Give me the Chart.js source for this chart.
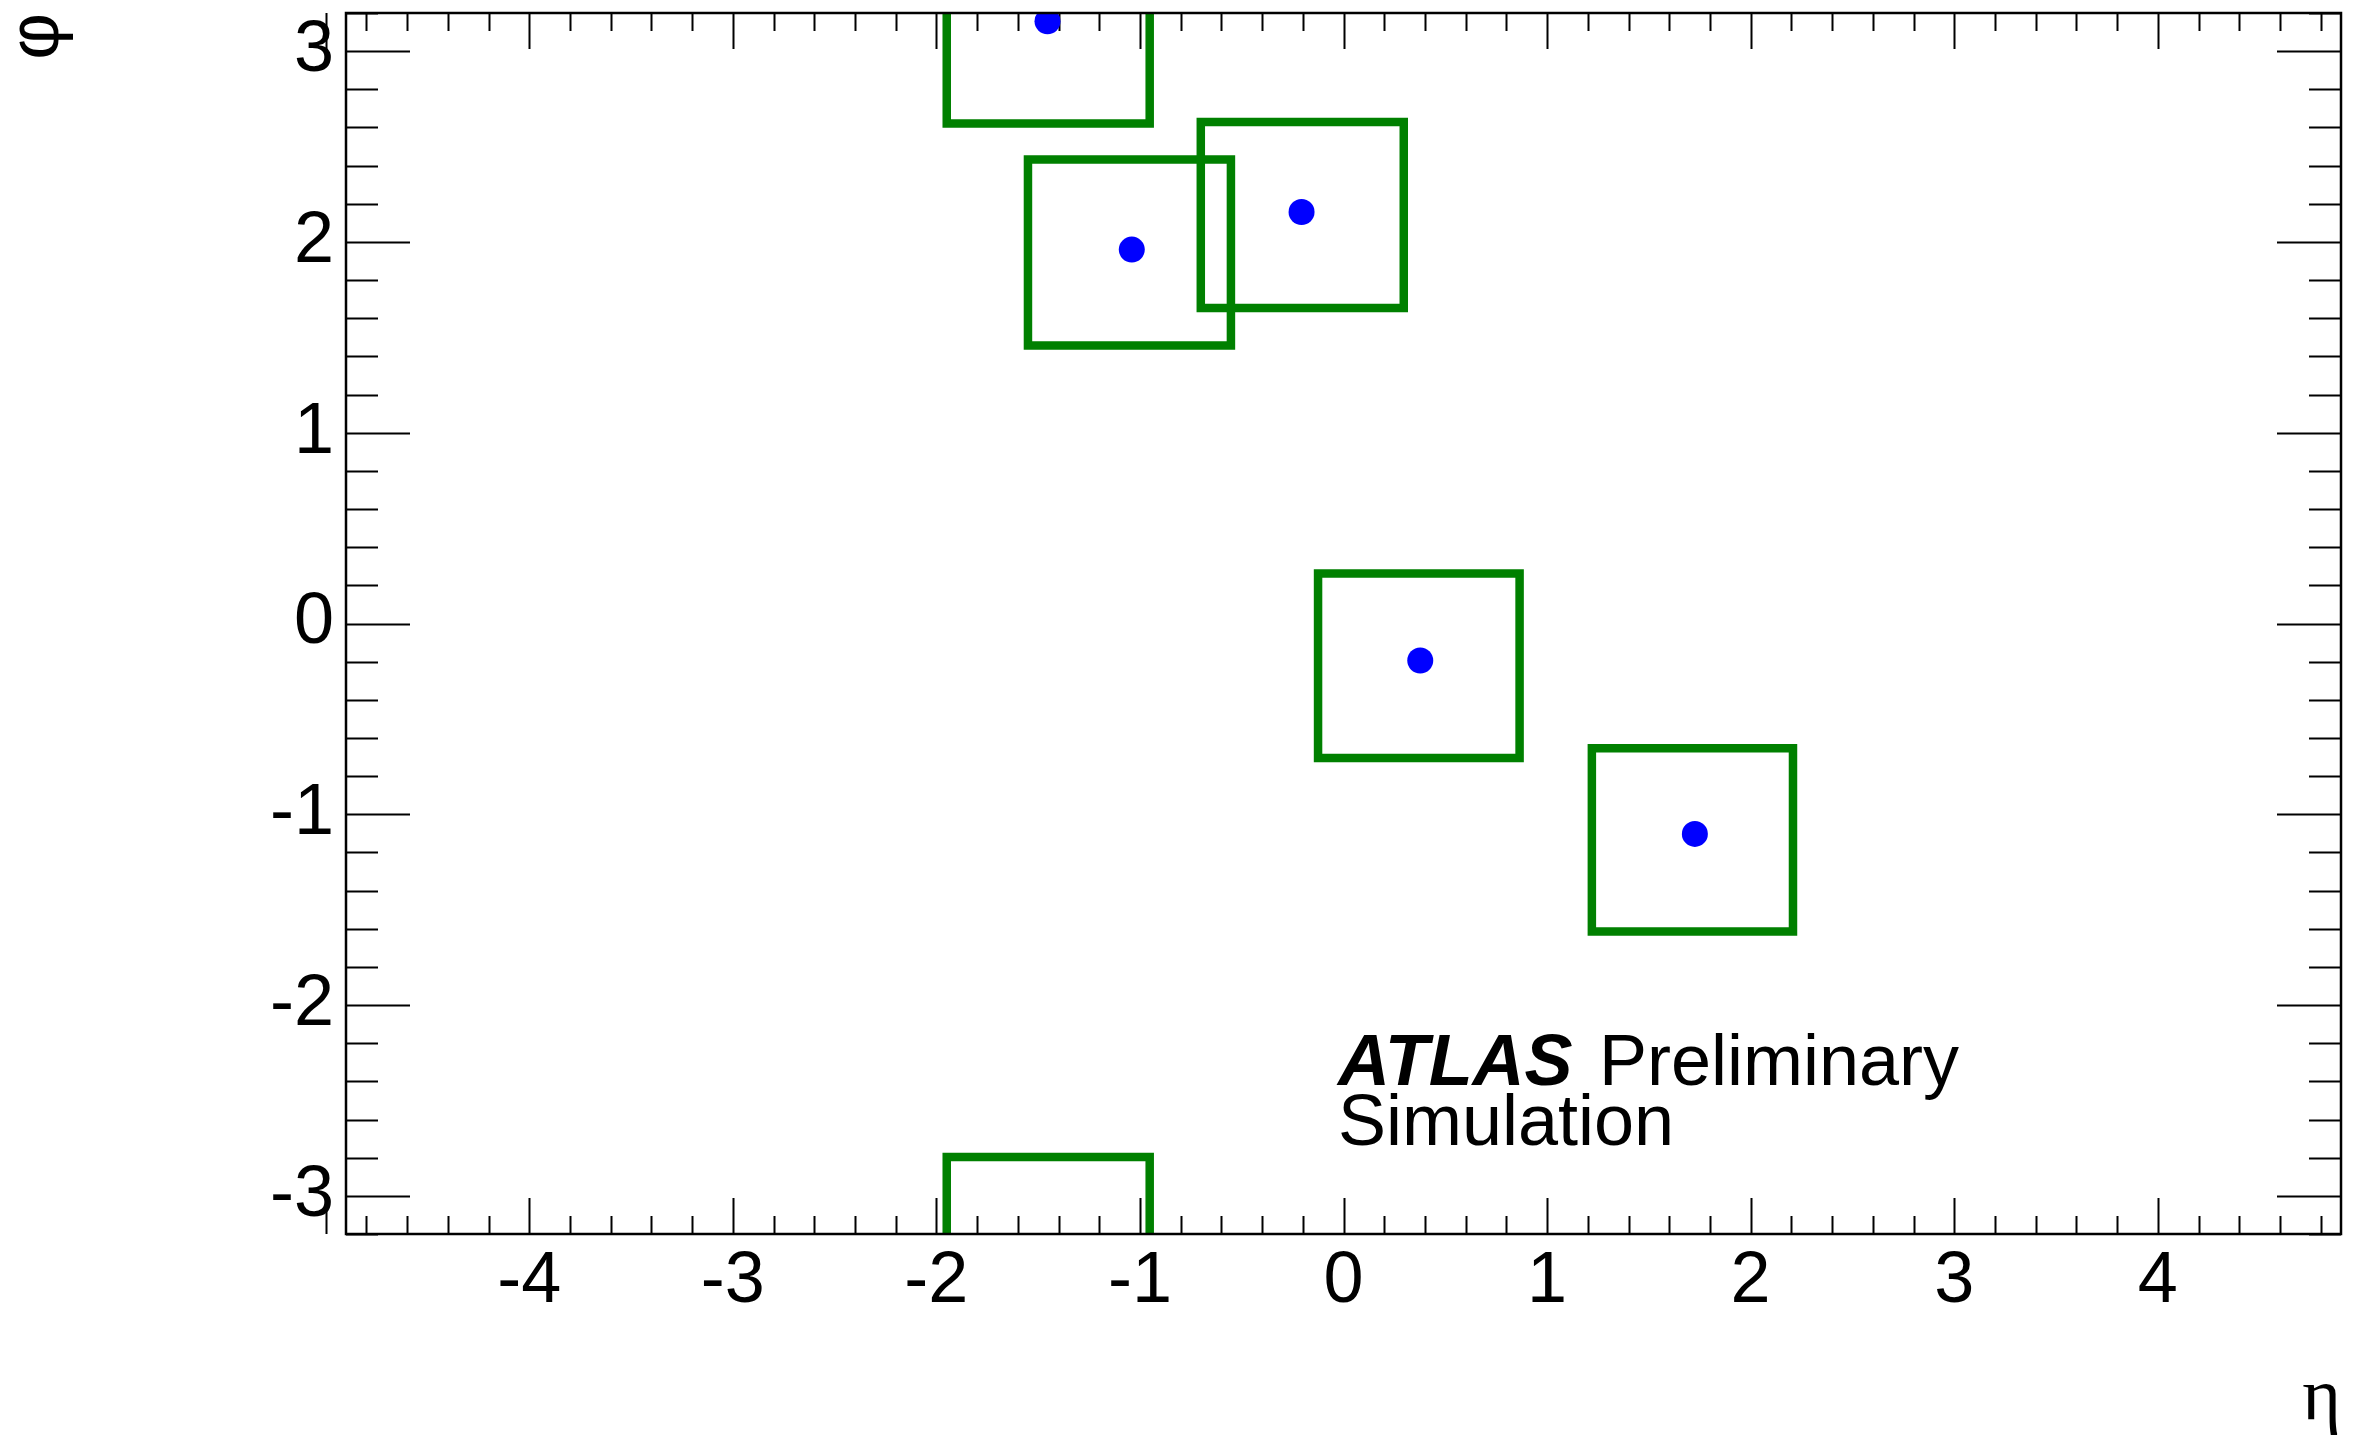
<!DOCTYPE html>
<html>
<head>
<meta charset="utf-8">
<script src="https://cdn.jsdelivr.net/npm/chart.js@4.4.1/dist/chart.umd.min.js"></script>
<style>
  html, body { margin: 0; padding: 0; background: #ffffff; overflow: hidden; }
  canvas { display: block; }
</style>
</head>
<body>
<canvas id="c" width="2356" height="1441"></canvas>
<script>
// ---- data ----
const jetEta = [-1.454, -1.040, -0.206, 0.377, 1.726];
const jetPhi = [3.157, 1.960, 2.157, -0.194, -1.103];

const boxEtaLo = [-1.949, -1.550, -0.701, -0.125, 1.220, -1.949];
const boxEtaHi = [-0.952, -0.553, 0.296, 0.865, 2.208, -0.952];
const boxPhiLo = [2.621, 1.457, 1.654, -0.705, -1.614, -3.700];
const boxPhiHi = [3.700, 2.432, 2.629, 0.262, -0.654, -2.797];

const xTickLabels = [-4, -3, -2, -1, 0, 1, 2, 3, 4];
const yTickLabels = [-3, -2, -1, 0, 1, 2, 3];

const xRange = [-4.9, 4.9];
const yRange = [-3.2, 3.2];
const minorStep = 0.2;

const GREEN = '#008000';
const BLUE = '#0000ff';

// ---- datasets ----
const boxDatasets = boxEtaLo.map((lo, i) => ({
  type: 'scatter',
  data: [
    {x: lo, y: boxPhiLo[i]},
    {x: boxEtaHi[i], y: boxPhiLo[i]},
    {x: boxEtaHi[i], y: boxPhiHi[i]},
    {x: lo, y: boxPhiHi[i]},
    {x: lo, y: boxPhiLo[i]}
  ],
  showLine: true,
  borderColor: GREEN,
  borderWidth: 8.5,
  borderJoinStyle: 'miter',
  borderCapStyle: 'square',
  pointRadius: 0,
  pointHoverRadius: 0,
  tension: 0,
  fill: false,
  clip: 0,
  order: 2
}));

const jetDataset = {
  type: 'scatter',
  data: jetEta.map((e, i) => ({x: e, y: jetPhi[i]})),
  pointRadius: 13,
  pointHoverRadius: 13,
  pointStyle: 'circle',
  backgroundColor: BLUE,
  borderWidth: 0,
  showLine: false,
  clip: 0,
  order: 0
};

// ---- ROOT-style frame and ticks ----
const frameTicks = {
  id: 'frameTicks',
  beforeDatasetsDraw(chart) {
    const ctx = chart.ctx;
    const xs = chart.scales.x, ys = chart.scales.y;
    const {left, right, top, bottom} = chart.chartArea;
    ctx.save();
    ctx.strokeStyle = '#000';
    ctx.lineWidth = 2;
    ctx.beginPath();
    const nx = Math.round(xRange[1] / minorStep);
    for (let k = -nx; k <= nx; k++) {
      const v = k * minorStep;
      const major = k % 5 === 0;
      const len = major ? 36 : 18;
      const px = Math.round(xs.getPixelForValue(v)) + 0.5;
      ctx.moveTo(px, bottom); ctx.lineTo(px, bottom - len);
      ctx.moveTo(px, top); ctx.lineTo(px, top + len);
    }
    const ny = Math.round(yRange[1] / minorStep);
    for (let k = -ny; k <= ny; k++) {
      const v = k * minorStep;
      const major = k % 5 === 0;
      const len = major ? 64 : 32;
      const py = Math.round(ys.getPixelForValue(v)) + 0.5;
      ctx.moveTo(left, py); ctx.lineTo(left + len, py);
      ctx.moveTo(right, py); ctx.lineTo(right - len, py);
    }
    ctx.stroke();
    ctx.restore();
  },
  afterDatasetsDraw(chart) {
    const ctx = chart.ctx;
    const {left, right, top, bottom} = chart.chartArea;
    ctx.save();
    ctx.strokeStyle = '#000';
    ctx.lineWidth = 2.5;
    ctx.strokeRect(left, top, right - left, bottom - top);
    ctx.restore();
  }
};

// ---- ATLAS label ----
const atlasLabel = {
  id: 'atlasLabel',
  afterDraw(chart) {
    const ctx = chart.ctx;
    ctx.save();
    ctx.fillStyle = '#000';
    ctx.textBaseline = 'alphabetic';
    ctx.textAlign = 'left';
    ctx.font = 'italic bold 72px "Liberation Sans", Arial, sans-serif';
    ctx.fillText('ATLAS', 1338, 1085);
    ctx.font = '72px "Liberation Sans", Arial, sans-serif';
    ctx.fillText('Preliminary', 1599, 1085);
    ctx.fillText('Simulation', 1338, 1145);
    ctx.restore();
  }
};

const tickFont = {family: '"Liberation Sans", Arial, sans-serif', size: 72, lineHeight: 1};

new Chart(document.getElementById('c'), {
  type: 'scatter',
  data: { datasets: [...boxDatasets, jetDataset] },
  options: {
    responsive: false,
    animation: false,
    devicePixelRatio: 1,
    events: [],
    layout: { padding: { top: 11, right: 15, left: 0, bottom: 0 } },
    plugins: { legend: { display: false }, tooltip: { enabled: false } },
    scales: {
      x: {
        type: 'linear',
        min: xRange[0], max: xRange[1],
        afterBuildTicks: s => { s.ticks = xTickLabels.map(v => ({value: v})); },
        afterFit: s => { s.height = 207; s.paddingLeft = 0; s.paddingRight = 0; },
        grid: { display: false, drawTicks: false },
        border: { display: false },
        ticks: { padding: 12, font: tickFont, color: '#000', maxRotation: 0, autoSkip: false,
                 callback: v => String(v) },
        title: { display: true, text: 'η', align: 'end', color: '#000',
                 font: {family: '"Liberation Serif", "Times New Roman", serif', size: 74, lineHeight: 1},
                 padding: {top: 0, bottom: 4} }
      },
      y: {
        type: 'linear',
        min: yRange[0], max: yRange[1],
        afterBuildTicks: s => { s.ticks = yTickLabels.map(v => ({value: v})); },
        afterFit: s => { s.width = 346; s.paddingTop = 0; s.paddingBottom = 0; },
        grid: { display: false, drawTicks: false },
        border: { display: false },
        ticks: { padding: 12, font: tickFont, color: '#000', autoSkip: false,
                 callback: v => String(v) },
        title: { display: true, text: 'φ', align: 'end', color: '#000',
                 font: {family: '"Liberation Sans", Arial, sans-serif', size: 72, lineHeight: 1},
                 padding: {top: 2, bottom: 0} }
      }
    }
  },
  plugins: [frameTicks, atlasLabel]
});
</script>
</body>
</html>
